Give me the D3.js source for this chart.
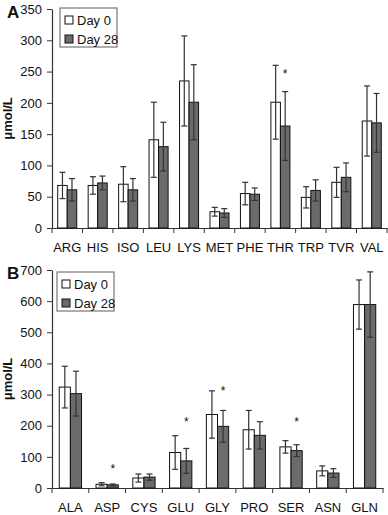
<!DOCTYPE html>
<html>
<head>
<meta charset="utf-8">
<script src="https://cdn.jsdelivr.net/npm/d3@7"></script>
<style>
  body { margin: 0; background: #fff; }
  svg text { font-family: "Liberation Sans", Arial, sans-serif; fill: #111; }
  .axis path, .axis line { stroke: #333; }
</style>
</head>
<body>
<svg id="chart"></svg>
<script>
// panel A: essential amino acids
const catsA = ['ARG', 'HIS', 'ISO', 'LEU', 'LYS', 'MET', 'PHE', 'THR', 'TRP', 'TVR', 'VAL'];
const day0A = [68, 68, 70, 141, 235, 26, 55, 201, 49, 73, 171];
const day0ErrA = [21, 14, 28, 60, 72, 7, 18, 59, 17, 24, 56];
const day28A = [61, 72, 61, 130, 201, 24, 54, 163, 60, 81, 168];
const day28ErrA = [18, 11, 18, 39, 60, 7, 10, 55, 17, 23, 47];
const starsA = [{cat: 'THR', value: 251}];
const ticksA = [0, 50, 100, 150, 200, 250, 300, 350];

// panel B: non-essential amino acids
const catsB = ['ALA', 'ASP', 'CYS', 'GLU', 'GLY', 'PRO', 'SER', 'ASN', 'GLN'];
const day0B = [324, 12, 32, 114, 236, 187, 132, 55, 589];
const day0ErrB = [67, 5, 13, 54, 76, 62, 20, 16, 79];
const day28B = [303, 10, 35, 87, 198, 169, 120, 48, 589];
const day28ErrB = [72, 3, 10, 40, 51, 44, 19, 14, 105];
const starsB = [{cat: 'ASP', value: 70}, {cat: 'GLU', value: 220}, {cat: 'GLY', value: 321}, {cat: 'SER', value: 220}];
const ticksB = [0, 100, 200, 300, 400, 500, 600, 700];

const seriesNames = ['Day 0', 'Day 28'];
const seriesFill = ['#ffffff', '#6b6b6b'];

const svg = d3.select('#chart').attr('width', 388).attr('height', 515);

class BarPanel {
    constructor(_config) {
        this.config = _config;
        this.initVis();
    }

    initVis() {
        let vis = this;
        const c = vis.config;

        vis.xScale = d3.scaleBand()
            .domain(c.cats)
            .range([c.left, c.right])
            .padding(0);

        vis.x1 = d3.scaleBand()
            .domain([0, 1])
            .range([0, vis.xScale.bandwidth()])
            .paddingInner(0)
            .paddingOuter(c.groupPad);

        vis.yScale = d3.scaleLinear()
            .domain([0, c.ticks[c.ticks.length - 1]])
            .range([c.bottom, c.top]);

        vis.g = svg.append('g');

        // y axis
        vis.g.append('g')
            .attr('class', 'axis')
            .attr('transform', `translate(${c.left},0)`)
            .call(d3.axisLeft(vis.yScale).tickValues(c.ticks).tickSize(5).tickPadding(5).tickSizeOuter(0))
            .call(g => g.selectAll('text').attr('font-size', 13))
            .call(g => g.select('.domain').attr('stroke-width', 1.2));

        // x axis: labels only, boundary ticks drawn below
        vis.g.append('g')
            .attr('class', 'axis')
            .attr('transform', `translate(0,${c.bottom})`)
            .call(d3.axisBottom(vis.xScale).tickSize(0).tickPadding(15).tickSizeOuter(0))
            .call(g => g.selectAll('text').attr('font-size', 13))
            .call(g => g.select('.domain').attr('stroke-width', 1.2));

        const bounds = c.cats.map(d => vis.xScale(d)).concat([c.right]);
        vis.g.selectAll('.xtick')
            .data(bounds)
            .join('line')
            .attr('class', 'xtick')
            .attr('x1', d => d).attr('x2', d => d)
            .attr('y1', c.bottom).attr('y2', c.bottom + 5)
            .attr('stroke', '#333');

        // axis title and panel letter
        vis.g.append('text')
            .attr('transform', `translate(12,${(c.top + c.bottom) / 2}) rotate(-90)`)
            .attr('text-anchor', 'middle')
            .attr('font-size', 13)
            .attr('font-weight', 'bold')
            .text('μmol/L');

        vis.g.append('text')
            .attr('x', 7)
            .attr('y', c.top + 9)
            .attr('font-size', 17)
            .attr('font-weight', 'bold')
            .text(c.letter);

        vis.renderVis();
        vis.renderLegend();
    }

    renderVis() {
        let vis = this;
        const c = vis.config;
        const rows = [];
        c.cats.forEach((cat, i) => {
            rows.push({cat, s: 0, v: c.day0[i], e: c.day0Err[i]});
            rows.push({cat, s: 1, v: c.day28[i], e: c.day28Err[i]});
        });
        const bx = d => vis.xScale(d.cat) + vis.x1(d.s);
        const bw = vis.x1.bandwidth();

        vis.g.selectAll('.bar')
            .data(rows)
            .join('rect')
            .attr('class', 'bar')
            .attr('x', bx)
            .attr('width', bw)
            .attr('y', d => vis.yScale(d.v))
            .attr('height', d => vis.yScale(0) - vis.yScale(d.v))
            .attr('fill', d => seriesFill[d.s])
            .attr('stroke', '#111')
            .attr('stroke-width', 1);

        const err = vis.g.selectAll('.err')
            .data(rows)
            .join('g')
            .attr('class', 'err')
            .attr('stroke', '#333')
            .attr('stroke-width', 1.2);
        err.append('line')
            .attr('x1', d => bx(d) + bw / 2).attr('x2', d => bx(d) + bw / 2)
            .attr('y1', d => vis.yScale(d.v + d.e)).attr('y2', d => vis.yScale(d.v - d.e));
        err.append('line')
            .attr('x1', d => bx(d) + bw / 2 - 3).attr('x2', d => bx(d) + bw / 2 + 3)
            .attr('y1', d => vis.yScale(d.v + d.e)).attr('y2', d => vis.yScale(d.v + d.e));
        err.append('line')
            .attr('x1', d => bx(d) + bw / 2 - 3).attr('x2', d => bx(d) + bw / 2 + 3)
            .attr('y1', d => vis.yScale(d.v - d.e)).attr('y2', d => vis.yScale(d.v - d.e));

        vis.g.selectAll('.star')
            .data(c.stars)
            .join('text')
            .attr('class', 'star')
            .attr('x', d => vis.xScale(d.cat) + vis.x1(1) + bw / 2)
            .attr('y', d => vis.yScale(d.value) + 7)
            .attr('text-anchor', 'middle')
            .attr('font-size', 12)
            .text('*');
    }

    renderLegend() {
        let vis = this;
        const L = vis.config.legend;
        const lg = vis.g.append('g').attr('transform', `translate(${L.x},${L.y})`);
        lg.append('rect')
            .attr('width', 57).attr('height', 39)
            .attr('fill', '#fff').attr('stroke', '#777').attr('stroke-width', 1.2);
        seriesNames.forEach((name, i) => {
            lg.append('rect')
                .attr('x', 5).attr('y', 8 + i * 19)
                .attr('width', 8).attr('height', 8)
                .attr('fill', seriesFill[i]).attr('stroke', '#111');
            lg.append('text')
                .attr('x', 17).attr('y', 17 + i * 19)
                .attr('font-size', 13)
                .text(name);
        });
    }
}

new BarPanel({
    letter: 'A', cats: catsA, ticks: ticksA, stars: starsA,
    day0: day0A, day0Err: day0ErrA, day28: day28A, day28Err: day28ErrA,
    left: 52, right: 387, top: 9, bottom: 228, groupPad: 0.6,
    legend: {x: 60, y: 8}
});

new BarPanel({
    letter: 'B', cats: catsB, ticks: ticksB, stars: starsB,
    day0: day0B, day0Err: day0ErrB, day28: day28B, day28Err: day28ErrB,
    left: 52, right: 383, top: 270, bottom: 488, groupPad: 0.65,
    legend: {x: 57, y: 272}
});
</script>
</body>
</html>
